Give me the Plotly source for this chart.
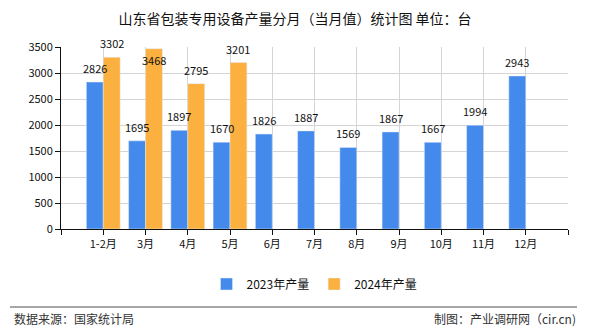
import plotly.graph_objects as go

categories = ["1-2月", "3月", "4月", "5月", "6月", "7月", "8月", "9月", "10月", "11月", "12月"]
values_2023 = [2826, 1695, 1897, 1670, 1826, 1887, 1569, 1867, 1667, 1994, 2943]
values_2024 = [3302, 3468, 2795, 3201, None, None, None, None, None, None, None]
series_names = ["2023年产量", "2024年产量"]
y_ticks = [0, 500, 1000, 1500, 2000, 2500, 3000, 3500]

FONT = "Noto Sans CJK SC"
L, R, T, B = 61, 22, 47, 101
W, H = 590, 330
ph = H - T - B
pw = W - L - R
Y_MAX = 3500

def py(px):
    return (H - B - px) / ph

def pxx(px):
    return (px - L) / pw

xpos = list(range(len(categories)))

fig = go.Figure()
fig.add_trace(go.Bar(x=xpos, y=values_2023, name=series_names[0], marker_color="#448AEC"))
fig.add_trace(go.Bar(x=xpos, y=values_2024, name=series_names[1], marker_color="#FBB03F"))

# data labels as annotations so they sit above all bars
BAR_W = 0.4
labels = []
for series, off in ((values_2023, -BAR_W / 2), (values_2024, BAR_W / 2)):
    for i, v in enumerate(series):
        if v is None:
            continue
        near_top = v > Y_MAX - 100
        labels.append(dict(
            x=i + off, y=v, xref="x", yref="y", text=str(v), showarrow=False,
            xanchor="center", yanchor="top" if near_top else "bottom",
            yshift=-1 if near_top else 4,
            font=dict(family=FONT, size=11, color="#111"),
        ))

tickvals = list(range(-1, len(categories) + 1))
ticktext = [""] + categories + [""]

fig.update_layout(
    width=W, height=H,
    margin=dict(l=L, r=R, t=T, b=B),
    paper_bgcolor="white", plot_bgcolor="white",
    barmode="group", bargap=0.2, bargroupgap=0,
    font=dict(family=FONT, size=11, color="#111"),
    title=dict(text="山东省包装专用设备产量分月（当月值）统计图 单位：台",
               x=0.5, xanchor="center", y=1 - 19 / H, yanchor="middle",
               font=dict(family=FONT, size=14, color="#111")),
    xaxis=dict(range=[-1, len(categories)], tickmode="array", tickvals=tickvals, ticktext=ticktext,
               showgrid=True, gridcolor="#d4d4d4", gridwidth=1,
               showline=True, linecolor="#111", linewidth=1,
               ticks="outside", ticklen=5, tickcolor="#111",
               tickfont=dict(family=FONT, size=11, color="#111"), zeroline=False),
    yaxis=dict(range=[0, Y_MAX], tickmode="array", tickvals=y_ticks,
               showgrid=True, gridcolor="#d4d4d4", gridwidth=1,
               showline=True, linecolor="#111", linewidth=1,
               ticks="outside", ticklen=5, tickcolor="#111",
               tickfont=dict(family=FONT, size=11, color="#111"), zeroline=False),
    legend=dict(orientation="h", x=0.5, xanchor="center", y=py(284), yanchor="middle",
                font=dict(family=FONT, size=12, color="#111"), itemwidth=30,
                bgcolor="rgba(0,0,0,0)"),
    shapes=[dict(type="line", xref="paper", yref="paper", x0=pxx(10), x1=pxx(577),
                 y0=py(307), y1=py(307), line=dict(color="#888", width=1.5))],
    annotations=labels + [
        dict(text="数据来源：国家统计局", xref="paper", yref="paper", x=pxx(12), y=py(318),
             xanchor="left", yanchor="middle", showarrow=False,
             font=dict(family=FONT, size=12, color="#333")),
        dict(text="制图：产业调研网（cir.cn)", xref="paper", yref="paper", x=pxx(578), y=py(318),
             xanchor="right", yanchor="middle", showarrow=False,
             font=dict(family=FONT, size=12, color="#333")),
    ],
)

fig.write_html("out.html")
